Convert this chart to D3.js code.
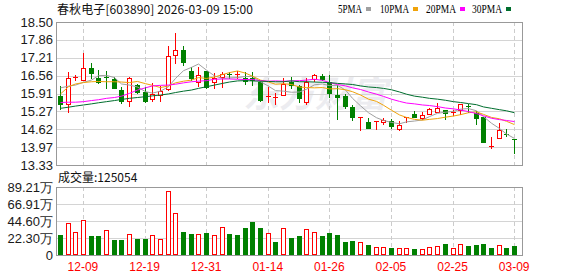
<!DOCTYPE html>
<html>
<head>
<meta charset="utf-8">
<script src="https://cdn.jsdelivr.net/npm/d3@7"></script>
<style>
  body { margin: 0; background: #fff; }
  svg { display: block; }
</style>
</head>
<body>
<div id="chart"></div>
<script>
// trading days shown on the chart
var dates = ["12-04","12-05","12-08","12-09","12-10","12-11","12-12","12-15","12-16","12-17",
  "12-18","12-19","12-22","12-23","12-24","12-25","12-26","12-29","12-30","12-31",
  "01-05","01-06","01-07","01-08","01-09","01-12","01-13","01-14","01-15","01-16",
  "01-19","01-20","01-21","01-22","01-23","01-26","01-27","01-28","01-29","01-30",
  "02-02","02-03","02-04","02-05","02-06","02-09","02-10","02-11","02-12","02-13",
  "02-24","02-25","02-26","02-27","03-02","03-03","03-04","03-05","03-06","03-09"];

var open  = [15.82,15.52,16.49,16.39,16.84,16.48,16.52,16.43,16.03,15.63,
  16.21,15.96,15.72,15.85,16.07,17.31,17.49,16.74,16.33,16.72,
  16.32,16.52,16.61,16.58,16.46,16.46,16.32,15.80,15.77,15.85,
  16.34,16.19,15.60,16.43,16.55,16.32,15.86,15.84,15.43,15.05,
  14.88,14.89,14.87,14.91,14.62,15.03,15.17,15.04,15.16,15.26,
  15.31,15.22,15.31,15.46,15.20,15.05,14.00,14.29,14.45,14.27];
var close = [15.52,16.46,16.52,16.82,16.67,16.33,16.50,16.13,15.66,16.48,
  15.97,15.66,15.88,16.01,17.26,17.49,17.07,16.49,16.57,16.16,
  16.46,16.63,16.59,16.61,16.38,16.42,15.68,15.82,15.79,16.27,
  16.22,15.74,16.32,16.58,16.43,15.92,15.78,15.48,15.08,15.07,
  14.68,14.91,14.97,14.74,14.78,15.05,15.08,15.14,15.34,15.40,
  15.22,15.24,15.54,15.44,15.02,14.17,14.03,14.58,14.43,14.22];
var high  = [16.17,16.68,16.58,17.38,17.02,16.75,16.72,16.51,16.15,16.51,
  16.25,16.16,16.28,16.19,17.62,18.10,17.62,16.89,16.86,16.72,
  16.64,16.70,16.70,16.72,16.68,16.68,16.37,16.14,15.92,16.46,
  16.51,16.22,16.46,16.62,16.62,16.58,16.22,15.88,15.50,15.07,
  15.02,14.91,15.02,14.98,14.92,15.05,15.28,15.23,15.40,15.58,
  15.31,15.33,15.54,15.54,15.28,15.08,14.34,14.85,14.62,14.27];
var low   = [15.35,15.24,16.39,16.39,16.46,16.31,16.10,16.10,15.58,15.48,
  15.93,15.60,15.66,15.66,16.04,17.00,16.96,16.40,16.19,16.13,
  16.10,16.15,16.46,16.46,16.25,16.22,15.66,15.60,15.52,15.85,
  16.10,15.62,15.54,16.37,16.39,15.80,14.98,15.38,14.97,14.61,
  14.68,14.64,14.82,14.68,14.58,14.90,15.06,14.99,15.16,15.23,
  14.99,15.14,15.19,15.23,14.82,14.15,13.93,14.29,14.37,13.78];

// volume in 万 (10k), and whether the bar is drawn red (1) or green (0)
var volume = [26.1,41.8,30.0,45.3,24.8,24.8,32.6,20.0,20.0,27.4,
  20.9,20.9,26.1,20.9,83.5,54.8,30.5,27.8,27.4,29.1,
  26.1,36.5,27.8,26.1,35.2,43.5,35.7,28.7,17.4,35.2,
  22.6,24.8,33.9,30.0,24.8,28.7,26.1,17.4,18.7,17.0,
  13.0,10.4,10.4,9.1,9.1,9.1,7.8,7.8,10.4,11.7,
  14.4,9.1,14.4,11.7,13.0,14.4,9.1,13.0,9.1,11.7];
var volUp = [0,1,1,1,0,0,1,0,0,1, 0,0,1,1,1,1,0,0,1,0,
  1,1,0,0,0,0,0,1,0,1, 0,0,1,1,0,0,0,0,0,1,
  0,1,1,0,1,1,0,1,1,1, 0,1,1,0,0,0,0,1,0,0];

// moving averages
var ma5 = [16.12,16.18,16.22,16.32,16.40,16.56,16.57,16.49,16.26,16.22,
  16.15,15.98,15.93,16.00,16.16,16.46,16.74,16.86,16.98,16.76,
  16.55,16.46,16.48,16.49,16.53,16.53,16.34,16.18,16.02,16.00,
  15.96,15.97,16.07,16.23,16.26,16.20,16.21,16.04,15.74,15.47,
  15.22,15.04,14.94,14.87,14.82,14.89,14.92,14.96,15.08,15.20,
  15.24,15.27,15.35,15.37,15.29,15.08,14.84,14.65,14.45,14.29];
var ma10 = [15.90,16.16,16.26,16.31,16.34,16.35,16.34,16.34,16.33,16.31,
  16.35,16.27,16.21,16.13,16.19,16.30,16.36,16.40,16.49,16.46,
  16.51,16.60,16.67,16.73,16.65,16.54,16.40,16.33,16.25,16.27,
  16.24,16.15,16.13,16.12,16.13,16.08,16.09,16.05,15.98,15.86,
  15.71,15.63,15.49,15.31,15.14,15.05,14.98,14.95,14.98,15.01,
  15.06,15.10,15.15,15.22,15.25,15.16,15.05,15.00,14.91,14.79];
var ma20 = [15.59,15.60,15.60,15.62,15.66,15.69,15.74,15.77,15.82,15.92,
  16.04,16.12,16.19,16.21,16.22,16.25,16.30,16.34,16.36,16.38,
  16.43,16.44,16.44,16.43,16.42,16.42,16.38,16.36,16.37,16.36,
  16.37,16.38,16.40,16.43,16.39,16.31,16.24,16.19,16.12,16.06,
  15.97,15.89,15.81,15.71,15.63,15.57,15.54,15.50,15.48,15.44,
  15.39,15.36,15.32,15.26,15.19,15.11,15.02,14.97,14.94,14.90];
var ma30 = [15.38,15.42,15.46,15.50,15.54,15.58,15.62,15.66,15.70,15.74,
  15.77,15.80,15.83,15.86,15.90,15.95,16.00,16.04,16.10,16.16,
  16.22,16.28,16.33,16.37,16.38,16.37,16.36,16.35,16.34,16.34,
  16.37,16.34,16.34,16.33,16.32,16.31,16.28,16.26,16.24,16.19,
  16.15,16.13,16.10,16.05,15.97,15.89,15.82,15.78,15.74,15.71,
  15.67,15.62,15.59,15.55,15.51,15.43,15.38,15.33,15.29,15.22];

var priceTicks = [13.33,13.97,14.62,15.27,15.91,16.56,17.21,17.86,18.50];
var volTicks = [0,22.30,44.60,66.91,89.21];
var labelDates = ["12-09","12-19","12-31","01-14","01-26","02-05","02-25","03-09"];

var maNames = ["5PMA","10PMA","20PMA","30PMA"];
var maColors = ["#a0a0a0","#f0a30a","#ff00ff","#006e2e"];

var red = "#ff0000", green = "#008000";
var left = 56, right = 522;

var svg = d3.select("#chart").append("svg")
    .attr("width", 578)
    .attr("height", 276);

svg.append("rect").attr("width", 578).attr("height", 276).attr("fill", "#fff");

var x = d3.scaleBand()
    .domain(dates)
    .range([left, 518])
    .paddingInner(0.35)
    .paddingOuter(0.175);

var y = d3.scaleLinear().domain([13.33, 18.50]).range([165, 22]);
var yv = d3.scaleLinear().domain([0, 89.21]).range([255, 187]);

function cx(d) { return Math.round(x(d) + x.bandwidth() / 2); }

// watermark
svg.append("text")
    .text("东方财富")
    .attr("x", 243)
    .attr("y", 107)
    .style("font-family", "Noto Sans CJK SC")
    .style("font-size", "36px")
    .style("font-weight", "bold")
    .style("font-style", "italic")
    .attr("fill", "#ececf0");

// grids
function grid(scale, ticks, top, bottom) {
    svg.append("g").selectAll("line")
        .data(ticks)
        .enter().append("line")
        .attr("x1", left).attr("x2", right)
        .attr("y1", function(d) { return Math.round(scale(d)) + 0.5; })
        .attr("y2", function(d) { return Math.round(scale(d)) + 0.5; })
        .attr("stroke", "#d4d4d4");
    svg.append("g").selectAll("line")
        .data(labelDates)
        .enter().append("line")
        .attr("x1", function(d) { return cx(d) + 0.5; })
        .attr("x2", function(d) { return cx(d) + 0.5; })
        .attr("y1", top).attr("y2", bottom)
        .attr("stroke", "#cccccc")
        .attr("stroke-dasharray", "4,3");
}
grid(y, priceTicks, 22, 165);
grid(yv, volTicks, 187, 255);

// candles
var idx = d3.range(dates.length);
var candles = svg.append("g").selectAll("g")
    .data(idx)
    .enter().append("g");

candles.append("line")
    .attr("x1", function(i) { return cx(dates[i]) + 0.5; })
    .attr("x2", function(i) { return cx(dates[i]) + 0.5; })
    .attr("y1", function(i) { return Math.round(y(high[i])); })
    .attr("y2", function(i) { return Math.round(y(low[i])) + 1; })
    .attr("stroke", function(i) { return close[i] >= open[i] ? red : green; });

candles.append("rect")
    .each(function(i) {
        var up = close[i] >= open[i];
        var t = Math.round(y(Math.max(open[i], close[i])));
        var b = Math.round(y(Math.min(open[i], close[i])));
        var c = cx(dates[i]);
        var r = d3.select(this);
        if (b - t < 2) {
            r.attr("x", c - 2).attr("y", t).attr("width", 5).attr("height", 1)
                .attr("fill", up ? red : green);
        } else if (up) {
            r.attr("x", c - 1.5).attr("y", t + 0.5).attr("width", 4).attr("height", b - t)
                .attr("fill", "#fff").attr("stroke", red);
        } else {
            r.attr("x", c - 2).attr("y", t).attr("width", 5).attr("height", b - t + 1)
                .attr("fill", green);
        }
    });

// moving average lines
var mas = [ma5, ma10, ma20, ma30];
mas.forEach(function(series, k) {
    var line = d3.line()
        .x(function(v, i) { return cx(dates[i]) + 0.5; })
        .y(function(v) { return y(v); });
    svg.append("path")
        .datum(series)
        .attr("d", line)
        .attr("fill", "none")
        .attr("stroke", maColors[k])
        .attr("stroke-width", 1);
});

// volume bars
svg.append("g").selectAll("rect")
    .data(idx)
    .enter().append("rect")
    .each(function(i) {
        var t = Math.round(yv(volume[i]));
        var c = cx(dates[i]);
        var r = d3.select(this);
        if (volUp[i]) {
            r.attr("x", c - 1.5).attr("y", t + 0.5).attr("width", 4).attr("height", 255 - t - 1)
                .attr("fill", "#fff").attr("stroke", red);
        } else {
            r.attr("x", c - 2).attr("y", t).attr("width", 5).attr("height", 255 - t)
                .attr("fill", green);
        }
    });

// frames
svg.append("rect")
    .attr("x", left + 0.5).attr("y", 22.5)
    .attr("width", right - left).attr("height", 143)
    .attr("fill", "none").attr("stroke", "#999");
svg.append("rect")
    .attr("x", left + 0.5).attr("y", 187.5)
    .attr("width", right - left).attr("height", 68)
    .attr("fill", "none").attr("stroke", "#999");

// axes
var yAxis = d3.axisLeft(y)
    .tickValues(priceTicks)
    .tickFormat(d3.format(".2f"))
    .tickSize(0)
    .tickPadding(3);
var gy = svg.append("g").attr("transform", "translate(" + left + ",0)").call(yAxis);

var vAxis = d3.axisLeft(yv)
    .tickValues(volTicks)
    .tickFormat(function(d) { return d === 0 ? "0" : d3.format(".2f")(d) + "万"; })
    .tickSize(0)
    .tickPadding(3);
var gv = svg.append("g").attr("transform", "translate(" + left + ",0)").call(vAxis);

var xAxis = d3.axisBottom(x)
    .tickValues(labelDates)
    .tickSize(0)
    .tickPadding(7);
var gx = svg.append("g").attr("transform", "translate(0,255)").call(xAxis);

[gy, gv, gx].forEach(function(g) {
    g.select(".domain").remove();
    g.selectAll("text")
        .style("font-family", "Liberation Sans, Arial, sans-serif")
        .style("font-size", "13px")
        .attr("fill", "#1a1a1a");
});
gx.selectAll("text")
    .style("font-size", "12px")
    .attr("fill", red);

// title
svg.append("text")
    .text("春秋电子[603890] 2026-03-09 15:00")
    .attr("x", 57)
    .attr("y", 14)
    .attr("textLength", 196)
    .attr("lengthAdjust", "spacing")
    .style("font-family", "Noto Sans CJK SC")
    .style("font-size", "12px")
    .attr("fill", "#111");

svg.append("text")
    .text("成交量:125054")
    .attr("x", 58)
    .attr("y", 182)
    .style("font-family", "Noto Sans CJK SC")
    .style("font-size", "12px")
    .attr("fill", "#111");

// legend
var legendX = [338, 380, 426, 472];
var legendW = [24, 29, 30, 30];
var legend = svg.append("g").selectAll("g")
    .data(maNames)
    .enter().append("g");
legend.append("text")
    .text(function(d) { return d; })
    .attr("x", function(d, k) { return legendX[k]; })
    .attr("y", 13)
    .attr("textLength", function(d, k) { return legendW[k]; })
    .attr("lengthAdjust", "spacingAndGlyphs")
    .style("font-family", "Liberation Serif, serif")
    .style("font-size", "13.5px")
    .attr("fill", "#000");
legend.append("rect")
    .attr("x", function(d, k) { return legendX[k] + legendW[k] + 4; })
    .attr("y", 7)
    .attr("width", 5)
    .attr("height", 4)
    .attr("fill", function(d, k) { return maColors[k]; });
</script>
</body>
</html>
